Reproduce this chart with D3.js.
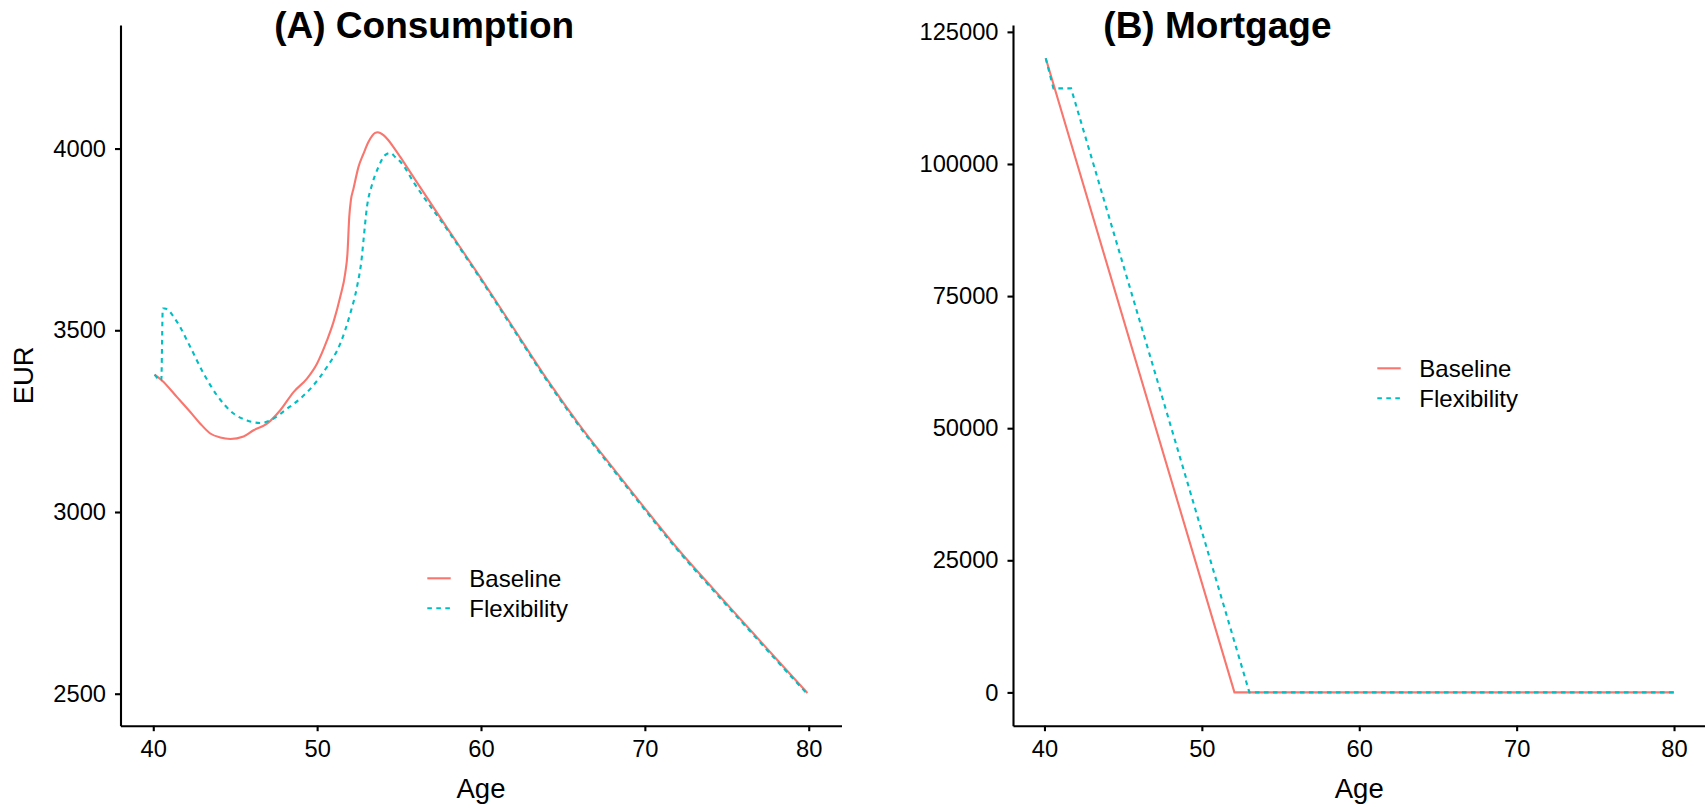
<!DOCTYPE html>
<html>
<head>
<meta charset="utf-8">
<script src="https://cdn.jsdelivr.net/npm/d3@7"></script>
<style>
  html, body { margin: 0; padding: 0; background: #fff; }
  svg { display: block; }
  text { font-family: "Liberation Sans", Arial, Helvetica, sans-serif; fill: #000; }
</style>
</head>
<body>
<svg id="chart" width="1705" height="809"></svg>
<script>
// ---------------- DATA ----------------
const seriesNames = ["Baseline", "Flexibility"];
const seriesColors = ["#F8766D", "#00BFC4"];

// (A) Consumption
const consAgeBase = [40.08, 40.53, 41.45, 42.26, 42.87, 43.48, 44.09, 44.70, 45.51, 46.12, 46.94, 47.75, 48.56, 49.38, 49.99, 50.60, 51.00, 51.41, 51.71, 51.85, 51.96, 52.06, 52.22, 52.52, 52.83, 53.13, 53.54, 53.70, 54.05, 54.35, 54.66, 55.07, 55.48, 56, 58, 60, 62, 64, 66, 68, 70, 72, 74, 76, 78, 79.92];
const consBase    = [3378, 3362, 3316, 3275, 3243, 3216, 3205, 3201, 3208, 3225, 3243, 3280, 3330, 3367, 3408, 3472, 3523, 3592, 3656, 3711, 3812, 3858, 3890, 3949, 3986, 4018, 4043, 4045, 4037, 4023, 4004, 3977, 3949, 3913, 3777, 3643, 3505, 3367, 3240, 3124, 3010, 2899, 2797, 2697, 2597, 2502];

const consAgeFlex = [40.08, 40.49, 40.58, 40.70, 41.45, 42.26, 43.07, 43.89, 44.90, 45.72, 46.53, 47.34, 48.16, 48.97, 49.78, 50.60, 51.41, 52.02, 52.43, 52.73, 52.83, 53.04, 53.34, 53.74, 54.15, 54.46, 54.76, 55.17, 55.88, 58, 60, 62, 64, 66, 68, 70, 72, 74, 76, 78, 79.92];
const consFlex    = [3378, 3362, 3560, 3560, 3523, 3454, 3381, 3321, 3271, 3252, 3245, 3257, 3284, 3312, 3349, 3399, 3463, 3546, 3619, 3702, 3748, 3839, 3899, 3949, 3982, 3988, 3977, 3959, 3908, 3773, 3639, 3501, 3363, 3236, 3120, 3006, 2895, 2793, 2693, 2593, 2499];

// (B) Mortgage
const mortAgeBase = [40.08, 52.07, 80];
const mortBase    = [120000, 0, 0];
const mortAgeFlex = [40.08, 40.57, 41.69, 53.02, 80];
const mortFlex    = [120000, 114300, 114300, 0, 0];

// Axis ticks
const ageTicks  = [40, 50, 60, 70, 80];
const consTicks = [2500, 3000, 3500, 4000];
const mortTicks = [0, 25000, 50000, 75000, 100000, 125000];

const titles = ["(A) Consumption", "(B) Mortgage"];
const xLabel = "Age";
const yLabelA = "EUR";

// ---------------- DRAW ----------------
const svg = d3.select("#chart");
const FONT = '"Liberation Sans", Arial, Helvetica, sans-serif';
const TOP = 25, BOTTOM = 725.7;

function zip(xs, ys) { return xs.map((x, i) => [x, ys[i]]); }

function panel(opts) {
  const x = d3.scaleLinear().domain([38, 82]).range([opts.left, opts.right]);
  const y = d3.scaleLinear().domain(opts.yDomain).range([BOTTOM, TOP]);
  const g = svg.append("g");

  // lines
  const line = d3.line().x(d => x(d[0])).y(d => y(d[1])).curve(opts.curve);
  opts.series.forEach((s, i) => {
    g.append("path")
      .datum(s)
      .attr("fill", "none")
      .attr("stroke", seriesColors[i])
      .attr("stroke-width", 2.1)
      .attr("stroke-dasharray", i === 1 ? "4.6,4.4" : null)
      .attr("d", line);
  });

  // axes
  const yAxis = d3.axisLeft(y).tickValues(opts.yTicks).tickSize(5.5).tickSizeOuter(0).tickPadding(9)
    .tickFormat(d3.format("d"));
  const gy = g.append("g").attr("transform", `translate(${opts.left},0)`).call(yAxis);
  const xAxis = d3.axisBottom(x).tickValues(ageTicks).tickSize(5.5).tickSizeOuter(0).tickPadding(9)
    .tickFormat(d3.format("d"));
  const gx = g.append("g").attr("transform", `translate(0,${BOTTOM})`).call(xAxis);
  [gx, gy].forEach(a => {
    a.attr("font-family", FONT).attr("font-size", 23.7);
    a.selectAll("path,line").attr("stroke", "#000").attr("stroke-width", 2.1);
    a.selectAll("text").attr("fill", "#000");
  });

  // title
  g.append("text")
    .attr("x", opts.titleX).attr("y", 38)
    .attr("text-anchor", "middle")
    .attr("font-size", 37).attr("font-weight", "bold")
    .text(opts.title);

  // x axis title
  g.append("text")
    .attr("x", (opts.left + opts.right) / 2).attr("y", 798)
    .attr("text-anchor", "middle")
    .attr("font-size", 27.5)
    .text(xLabel);

  // legend
  const lg = g.append("g");
  seriesNames.forEach((name, i) => {
    const ly = opts.legendY + i * 30;
    lg.append("line")
      .attr("x1", opts.legendX).attr("x2", opts.legendX + 23.4)
      .attr("y1", ly).attr("y2", ly)
      .attr("stroke", seriesColors[i]).attr("stroke-width", 2.1)
      .attr("stroke-dasharray", i === 1 ? "4.6,4.4" : null);
    lg.append("text")
      .attr("x", opts.legendX + 42).attr("y", ly)
      .attr("dy", "0.35em")
      .attr("font-size", 24)
      .text(name);
  });
  return g;
}

panel({
  left: 120.5, right: 841.5,
  yDomain: [2412, 4340], yTicks: consTicks,
  curve: d3.curveMonotoneX,
  series: [zip(consAgeBase, consBase), zip(consAgeFlex, consFlex)],
  title: titles[0], titleX: 424.2,
  legendX: 427.3, legendY: 578.3
});

panel({
  left: 1013, right: 1705.5,
  yDomain: [-6300, 126300], yTicks: mortTicks,
  curve: d3.curveLinear,
  series: [zip(mortAgeBase, mortBase), zip(mortAgeFlex, mortFlex)],
  title: titles[1], titleX: 1217.4,
  legendX: 1377.3, legendY: 368.3
});

// y axis title (panel A)
svg.append("text")
  .attr("transform", "translate(33.3,375.3) rotate(-90)")
  .attr("text-anchor", "middle")
  .attr("font-size", 27.5)
  .text(yLabelA);
</script>
</body>
</html>
